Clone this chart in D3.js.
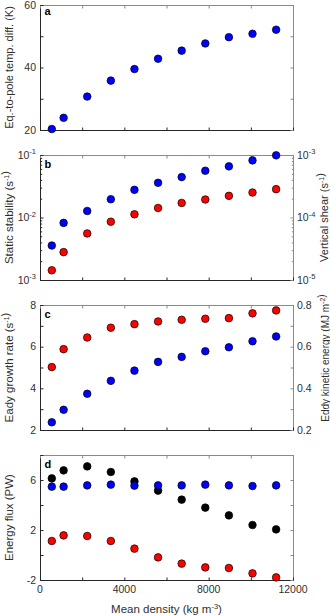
<!DOCTYPE html>
<html><head><meta charset="utf-8">
<script src="https://cdn.jsdelivr.net/npm/d3@7"></script>
<style>
html,body{margin:0;padding:0;background:#fff;}
svg{display:block;font-family:"Liberation Sans",Arial,Helvetica,sans-serif;}
</style></head>
<body>
<svg id="chart" width="330" height="616"></svg>
<script>
// ---- data ----
const density = [560, 1120, 2240, 3360, 4480, 5600, 6720, 7840, 8960, 10080, 11200];
const tempDiff = [20.3, 23.9, 30.7, 35.8, 39.5, 42.8, 45.4, 47.7, 49.7, 50.8, 52.1];
const staticStability = [3.56e-3, 8.2e-3, 0.0127, 0.0196, 0.0277, 0.0359, 0.0443, 0.056, 0.0658, 0.082, 0.0988];
const verticalShear = [1.43e-5, 2.79e-5, 5.56e-5, 8.57e-5, 1.125e-4, 1.42e-4, 1.71e-4, 1.94e-4, 2.22e-4, 2.51e-4, 2.84e-4];
const eadyGrowth = [2.37, 2.97, 3.74, 4.36, 4.85, 5.27, 5.51, 5.78, 5.97, 6.26, 6.49];
const eddyKE = [0.502, 0.588, 0.644, 0.691, 0.708, 0.721, 0.729, 0.734, 0.737, 0.760, 0.774];
const fluxBlack = [6.13, 6.77, 7.09, 6.64, 5.89, 5.15, 4.43, 3.79, 3.17, 2.40, 2.05];
const fluxBlue = [5.47, 5.47, 5.57, 5.63, 5.55, 5.57, 5.57, 5.63, 5.57, 5.52, 5.57];
const fluxRed = [1.12, 1.57, 1.52, 1.12, 0.51, -0.19, -0.69, -0.99, -1.04, -1.47, -1.79];

const xTicks = [0, 2000, 4000, 6000, 8000, 10000, 12000];
const xTickLabels = [0, 4000, 8000, 12000];
const panelLetters = ["a", "b", "c", "d"];

// ---- layout ----
const svg = d3.select("#chart");
const L = 40, R = 293, PH = 125;
const tops = [5, 155, 305, 455];
const dark = "#262626", light = "#8a8a8a", txt = "#2f2f2f";
const FS = 10.5;

const x = d3.scaleLinear().domain([0, 12000]).range([L, R]);

function frame(g, top) {
  const bot = top + PH;
  g.append("line").attr("x1", L).attr("x2", R).attr("y1", top + 0.5).attr("y2", top + 0.5).attr("stroke", light).attr("stroke-width", 1);
  g.append("line").attr("x1", R + 0.5).attr("x2", R + 0.5).attr("y1", top).attr("y2", bot).attr("stroke", light).attr("stroke-width", 1);
  g.append("line").attr("x1", L).attr("x2", R + 1).attr("y1", bot + 0.5).attr("y2", bot + 0.5).attr("stroke", dark).attr("stroke-width", 1);
  g.append("line").attr("x1", L + 0.5).attr("x2", L + 0.5).attr("y1", top).attr("y2", bot + 1).attr("stroke", dark).attr("stroke-width", 1);
}

function xAxes(g, top, withLabels) {
  const bot = top + PH;
  const ab = d3.axisBottom(x).tickValues(xTicks).tickSize(-3).tickSizeOuter(0).tickFormat("");
  const gb = g.append("g").attr("transform", `translate(0,${bot + 0.5})`).call(ab);
  gb.select(".domain").remove();
  gb.selectAll("line").attr("stroke", dark);
  const at = d3.axisTop(x).tickValues(xTicks).tickSize(-3).tickSizeOuter(0).tickFormat("");
  const gt = g.append("g").attr("transform", `translate(0,${top + 0.5})`).call(at);
  gt.select(".domain").remove();
  gt.selectAll("line").attr("stroke", light);
  if (withLabels) {
    g.selectAll(".xl").data(xTickLabels).join("text")
      .attr("x", d => x(d)).attr("y", bot + 13)
      .attr("text-anchor", "middle").attr("font-size", FS).attr("fill", txt)
      .text(d => d);
  }
}

function yAxis(g, y, side, major, minor, labelVals, fmt, color) {
  const xPos = side === "left" ? L + 0.5 : R + 0.5;
  const mk = side === "left" ? d3.axisLeft : d3.axisRight;
  const a = mk(y).tickValues(major).tickSize(-3).tickSizeOuter(0).tickFormat("");
  const ga = g.append("g").attr("transform", `translate(${xPos},0)`).call(a);
  ga.select(".domain").remove();
  ga.selectAll("line").attr("stroke", color);
  if (minor && minor.length) {
    const b = mk(y).tickValues(minor).tickSize(-1.7).tickSizeOuter(0).tickFormat("");
    const gm = g.append("g").attr("transform", `translate(${xPos},0)`).call(b);
    gm.select(".domain").remove();
    gm.selectAll("line").attr("stroke", color);
  }
  if (labelVals) {
    labelVals.forEach(v => {
      const t = g.append("text")
        .attr("x", side === "left" ? L - 4 : R + 4)
        .attr("y", y(v)).attr("dy", "0.36em")
        .attr("text-anchor", side === "left" ? "end" : "start")
        .attr("font-size", FS).attr("fill", txt);
      fmt(t, v);
    });
  }
}

function plainFmt(t, v) { t.text(v); }
function logFmt(t, v) {
  const e = Math.round(Math.log10(v));
  t.append("tspan").text("10");
  t.append("tspan").attr("dy", -4.5).attr("font-size", 7.5).text(String(e));
}

function yLabel(g, cx, cy, fs, parts) {
  const t = g.append("text")
    .attr("transform", `translate(${cx},${cy}) rotate(-90)`)
    .attr("text-anchor", "middle").attr("font-size", fs).attr("fill", txt);
  parts.forEach(p => {
    if (p.sup) {
      t.append("tspan").attr("dy", -3.8).attr("font-size", 7).text(p.sup);
      t.append("tspan").attr("dy", 3.8).text("");
    } else {
      t.append("tspan").text(p.t);
    }
  });
}

function dots(g, y, vals, fill) {
  g.append("g").selectAll("circle").data(vals).join("circle")
    .attr("cx", (d, i) => x(density[i])).attr("cy", d => y(d))
    .attr("r", 3.8).attr("fill", fill).attr("stroke", "#000").attr("stroke-width", 0.7);
}

function letter(g, top, ch, dy) {
  g.append("text").attr("x", 44.5).attr("y", top + dy)
    .attr("font-size", 11).attr("font-weight", "bold").attr("fill", "#000").text(ch);
}

function logMinor(lo, hi) {
  const out = [];
  for (let e = lo; e < hi; e++) for (let k = 2; k <= 9; k++) out.push(k * Math.pow(10, e));
  return out;
}

// ---- panel a ----
{
  const top = tops[0];
  const g = svg.append("g");
  const y = d3.scaleLinear().domain([20, 60]).range([top + PH, top]);
  frame(g, top);
  xAxes(g, top, false);
  yAxis(g, y, "left", [20, 30, 40, 50, 60], null, [20, 40, 60], plainFmt, dark);
  yAxis(g, y, "right", [20, 30, 40, 50, 60], null, null, null, light);
  yLabel(g, 12.5, top + PH / 2, 11, [{ t: "Eq.-to-pole temp. diff. (K)" }]);
  dots(g, y, tempDiff, "#0000ff");
  letter(g, top, panelLetters[0], 10);
}
// ---- panel b ----
{
  const top = tops[1];
  const g = svg.append("g");
  const yl = d3.scaleLog().domain([1e-3, 1e-1]).range([top + PH, top]);
  const yr = d3.scaleLog().domain([1e-5, 1e-3]).range([top + PH, top]);
  frame(g, top);
  xAxes(g, top, false);
  yAxis(g, yl, "left", [1e-3, 1e-2, 1e-1], logMinor(-3, -1), [1e-3, 1e-2, 1e-1], logFmt, dark);
  yAxis(g, yr, "right", [1e-5, 1e-4, 1e-3], logMinor(-5, -3), [1e-5, 1e-4, 1e-3], logFmt, light);
  yLabel(g, 13, top + PH / 2, 11.5, [{ t: "Static stability (s" }, { sup: "-1" }, { t: ")" }]);
  yLabel(g, 327.5, top + PH / 2, 11, [{ t: "Vertical shear (s" }, { sup: "-1" }, { t: ")" }]);
  dots(g, yl, staticStability, "#0000ff");
  dots(g, yr, verticalShear, "#ff0000");
  letter(g, top, panelLetters[1], 13);
}
// ---- panel c ----
{
  const top = tops[2];
  const g = svg.append("g");
  const yl = d3.scaleLinear().domain([2, 8]).range([top + PH, top]);
  const yr = d3.scaleLinear().domain([0.2, 0.8]).range([top + PH, top]);
  frame(g, top);
  xAxes(g, top, false);
  yAxis(g, yl, "left", [2, 3, 4, 5, 6, 7, 8], null, [2, 4, 6, 8], plainFmt, dark);
  yAxis(g, yr, "right", [0.2, 0.3, 0.4, 0.5, 0.6, 0.7, 0.8], null, [0.2, 0.4, 0.6, 0.8], plainFmt, light);
  yLabel(g, 13, top + PH / 2, 11.5, [{ t: "Eady growth rate (s" }, { sup: "-1" }, { t: ")" }]);
  yLabel(g, 328.5, top + 53, 10, [{ t: "Eddy kinetic energy (MJ m" }, { sup: "-2" }, { t: ")" }]);
  dots(g, yl, eadyGrowth, "#0000ff");
  dots(g, yr, eddyKE, "#ff0000");
  letter(g, top, panelLetters[2], 13);
}
// ---- panel d ----
{
  const top = tops[3];
  const g = svg.append("g");
  const y = d3.scaleLinear().domain([-2, 8]).range([top + PH, top]);
  frame(g, top);
  xAxes(g, top, true);
  yAxis(g, y, "left", [-2, 0, 2, 4, 6, 8], null, [-2, 2, 6], plainFmt, dark);
  yAxis(g, y, "right", [-2, 0, 2, 4, 6, 8], null, null, null, light);
  yLabel(g, 13, top + PH / 2, 11.5, [{ t: "Energy flux (PW)" }]);
  dots(g, y, fluxBlack, "#000000");
  dots(g, y, fluxBlue, "#0000ff");
  dots(g, y, fluxRed, "#ff0000");
  letter(g, top, panelLetters[3], 13);
  // x-axis title
  const t = svg.append("text").attr("x", (L + R) / 2).attr("y", 613)
    .attr("text-anchor", "middle").attr("font-size", 11.5).attr("fill", txt);
  t.append("tspan").text("Mean density (kg m");
  t.append("tspan").attr("dy", -4.5).attr("font-size", 7.5).text("-3");
  t.append("tspan").attr("dy", 4.5).text(")");
}
</script>
</body></html>
